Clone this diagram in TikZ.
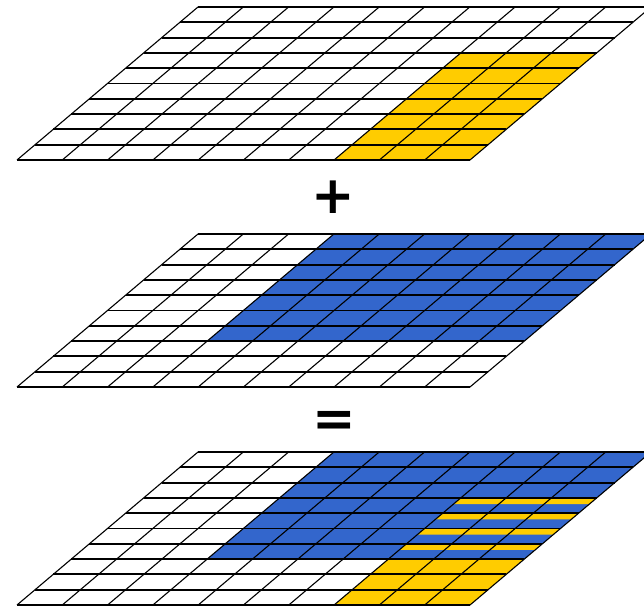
\documentclass[tikz,border=0pt]{standalone}
\usepackage{fontspec}
\setmainfont{DejaVu Sans}
\definecolor{sunyellow}{RGB}{255,204,0}
\definecolor{layerblue}{RGB}{51,102,204}

\begin{document}
\begin{tikzpicture}[x=1pt, y=1pt,
  hline/.style={black, line width=1.9pt},
  sline/.style={black, line width=1.1pt},
  sign/.style={font=\bfseries\fontsize{52}{52}\selectfont, inner sep=0pt}]

  \useasboundingbox (0,0) rectangle (644,609);

  % top layer
  \begin{scope}[cm={45.3,0,18.1,15.3,(17,449)}]
    \fill[sunyellow] (7,0) -- (10,0) -- (10,7) -- (7,7) -- cycle;
    \foreach \k in {0,...,10}
    {
      \draw[sline] (\k,0) -- (\k,10);
      \draw[hline] (0,\k) -- (10,\k);
    }
  \end{scope}

  \node[sign] (plus) at (333,412) {+};

  % middle layer
  \begin{scope}[cm={45.3,0,18.1,15.3,(17,222)}]
    \fill[layerblue] (3,3) -- (10,3) -- (10,10) -- (3,10) -- cycle;
    \foreach \k in {0,...,10}
    {
      \draw[sline] (\k,0) -- (\k,10);
      \draw[hline] (0,\k) -- (10,\k);
    }
  \end{scope}

  \node[sign] (equals) at (334,185) {=};

  % bottom layer, both together
  \begin{scope}[cm={45.3,0,18.1,15.3,(17,4)}]
    \fill[layerblue] (3,3) -- (10,3) -- (10,10) -- (3,10) -- cycle;
    \fill[sunyellow] (7,0) -- (10,0) -- (10,3) -- (7,3) -- cycle;
    \foreach \j in {3,...,6}
      \fill[sunyellow] (7,\j+0.6) -- (10,\j+0.6) -- (10,\j+1) -- (7,\j+1) -- cycle;
    \foreach \k in {0,...,10}
    {
      \draw[sline] (\k,0) -- (\k,10);
      \draw[hline] (0,\k) -- (10,\k);
    }
  \end{scope}

\end{tikzpicture}
\end{document}
